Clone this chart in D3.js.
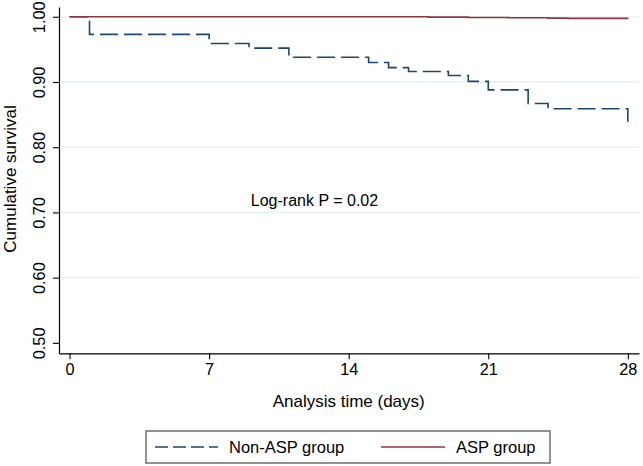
<!DOCTYPE html>
<html><head><meta charset="utf-8">
<script src="https://cdn.jsdelivr.net/npm/d3@7"></script>
<style>
html,body{margin:0;padding:0;background:#fff;}
text{font-family:"Liberation Sans",Arial,Helvetica,sans-serif;fill:#000;}
</style></head>
<body>
<svg id="chart" width="643" height="466"></svg>
<script>
// Data
const nonAspTimes = [0, 1, 7, 9, 11, 15, 16, 17, 19, 20, 21, 23, 24, 28];
const nonAspSurv  = [1.0, 0.973, 0.959, 0.952, 0.938, 0.930, 0.922, 0.916, 0.910, 0.901, 0.888, 0.867, 0.859, 0.839];
const aspTimes = [0, 18, 20, 22, 24, 25, 28];
const aspSurv  = [1.0, 0.9995, 0.999, 0.9985, 0.998, 0.9975, 0.9968];
const xTicks = [0, 7, 14, 21, 28];
const yTicks = [0.50, 0.60, 0.70, 0.80, 0.90, 1.00];
const gridTicks = [0.60, 0.70, 0.80, 0.90, 1.00];
const seriesNames = ["Non-ASP group", "ASP group"];
const annotation = "Log-rank P = 0.02";

const svg = d3.select("#chart");
const x = d3.scaleLinear().domain([-0.53, 28.56]).range([59, 639]);
const y = d3.scaleLinear().domain([0.484, 1.015]).range([353.3, 7]);

// gridlines
svg.append("g").selectAll("line").data(gridTicks).join("line")
  .attr("x1", 59).attr("x2", 639)
  .attr("y1", d => y(d)).attr("y2", d => y(d))
  .attr("stroke", "#e6eff1").attr("stroke-width", 1.3);

// axes
const yAxis = d3.axisLeft(y).tickValues(yTicks).tickFormat(d3.format(".2f")).tickSize(6).tickSizeOuter(0);
const gy = svg.append("g").attr("transform", "translate(59,0)").call(yAxis);
gy.select(".domain").attr("stroke", "#000").attr("stroke-width", 1.2);
gy.selectAll(".tick line").attr("stroke", "#000").attr("stroke-width", 1.1);
gy.selectAll(".tick text")
  .attr("font-size", 16.3)
  .attr("font-family", "Liberation Sans, Arial, sans-serif")
  .attr("text-anchor", "middle")
  .attr("dy", 0)
  .attr("x", 0).attr("y", 0)
  .attr("transform", "translate(-14,0) rotate(-90)");

const xAxis = d3.axisBottom(x).tickValues(xTicks).tickSize(6).tickSizeOuter(0).tickPadding(4);
const gx = svg.append("g").attr("transform", "translate(0,353.3)").call(xAxis);
gx.select(".domain").attr("stroke", "#000").attr("stroke-width", 1.2);
gx.selectAll(".tick line").attr("stroke", "#000").attr("stroke-width", 1.1);
gx.selectAll(".tick text").attr("font-size", 16.3).attr("font-family", "Liberation Sans, Arial, sans-serif");

// axis titles
svg.append("text").attr("x", x(14)).attr("y", 407)
  .attr("text-anchor", "middle").attr("font-size", 17).text("Analysis time (days)");
svg.append("text").attr("transform", "translate(16,179) rotate(-90)")
  .attr("text-anchor", "middle").attr("font-size", 17).text("Cumulative survival");

// annotation
svg.append("text").attr("x", 314.5).attr("y", 205.5)
  .attr("text-anchor", "middle").attr("font-size", 16).text(annotation);

// curves
const line = d3.line().x(d => x(d[0])).y(d => y(d[1])).curve(d3.curveStepAfter);
const aspData = aspTimes.map((t, i) => [t, aspSurv[i]]);
const nonAspData = nonAspTimes.map((t, i) => [t, nonAspSurv[i]]);

svg.append("path").datum(nonAspData).attr("d", line)
  .attr("fill", "none").attr("stroke", "#1a476f").attr("stroke-width", 1.6)
  .attr("stroke-dasharray", "18,6");
svg.append("path").datum(aspData).attr("d", line)
  .attr("fill", "none").attr("stroke", "#90353b").attr("stroke-width", 1.6);

// legend
const lg = svg.append("g");
lg.append("rect").attr("x", 146).attr("y", 431).attr("width", 404).attr("height", 32)
  .attr("fill", "#fff").attr("stroke", "#6e6e6e").attr("stroke-width", 1.5);
lg.append("line").attr("x1", 155).attr("x2", 218).attr("y1", 447).attr("y2", 447)
  .attr("stroke", "#1a476f").attr("stroke-width", 1.6).attr("stroke-dasharray", "13,5");
lg.append("text").attr("x", 229).attr("y", 453).attr("font-size", 16.5).text(seriesNames[0]);
lg.append("line").attr("x1", 381).attr("x2", 445).attr("y1", 447).attr("y2", 447)
  .attr("stroke", "#90353b").attr("stroke-width", 1.6);
lg.append("text").attr("x", 456).attr("y", 453).attr("font-size", 16.5).text(seriesNames[1]);
</script>
</body></html>
